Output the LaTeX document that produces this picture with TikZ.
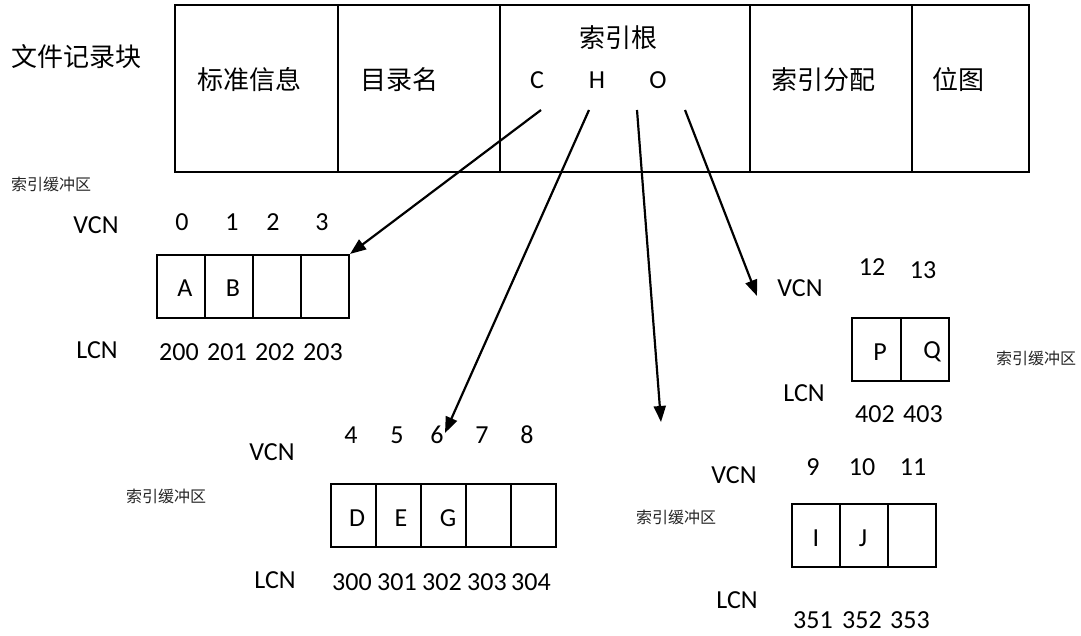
\documentclass[tikz,border=0pt]{standalone}
\usepackage{fontspec}
\setmainfont{Carlito}
\newfontfamily\cjk{Noto Sans CJK SC}
\usetikzlibrary{arrows.meta}
\begin{document}
\begin{tikzpicture}[x=1pt,y=-1pt,
  cell/.style={draw, line width=2.1pt, inner sep=0pt, minimum height=63pt},
  rec/.style={draw, line width=2.1pt, inner sep=0pt, minimum height=167pt},
  big/.style={font=\cjk\fontsize{26}{30}\selectfont, inner sep=0pt},
  lat/.style={font=\fontsize{26}{30}\selectfont, inner sep=0pt},
  small/.style={font=\cjk\fontsize{16}{18}\selectfont, inner sep=0pt, text=black!85},
  arr/.style={-{Triangle[length=16pt,width=12pt]}, line width=2.2pt}]
\useasboundingbox (0,0) rectangle (1081,636);

% file record block
\node[big] (frb) at (76,57) {文件记录块};
\node[rec, minimum width=163pt] (std)   at (256.5,88.5) {};
\node[rec, minimum width=162pt] (dir)   at (419,88.5) {};
\node[rec, minimum width=250pt] (root)  at (625,88.5) {};
\node[rec, minimum width=162pt] (alloc) at (831,88.5) {};
\node[rec, minimum width=117pt] (bmp)   at (970.5,88.5) {};
\node[big] (tstd)   at (249,80) {标准信息};
\node[big] (tdir)   at (399,80) {目录名};
\node[big] (troot)  at (618,38) {索引根};
\node[lat] (kc)     at (537,80) {C};
\node[lat] (kh)     at (597,80) {H};
\node[lat] (ko)     at (658,80) {O};
\node[big] (talloc) at (823,80) {索引分配};
\node[big] (tbmp)   at (958,80) {位图};

% index buffer A B
\node[small] (bufa) at (51,184) {索引缓冲区};
\node[lat] (vcna) at (96,225) {VCN};
\node[lat] (lcna) at (97,350) {LCN};
\foreach \i/\x in {1/181,2/229,3/277,4/325}
  \node[cell, minimum width=48pt] (ba\i) at (\x,286.5) {};
\foreach \t/\x in {0/182,1/232,2/273,3/322}
  \node[lat] (va\t) at (\x,222) {\t};
\foreach \t/\x in {200/179,201/227,202/275,203/323}
  \node[lat] (la\t) at (\x,352) {\t};
\node[lat] (ca) at (185,288) {A};
\node[lat] (cb) at (233,288) {B};

% index buffer D E G
\node[small] (bufd) at (166,496) {索引缓冲区};
\node[lat] (vcnd) at (272,452) {VCN};
\node[lat] (lcnd) at (275,580) {LCN};
\foreach \i/\x in {1/353.5,2/398.5,3/443.5,4/488.5,5/533.5}
  \node[cell, minimum width=45pt] (bd\i) at (\x,515.5) {};
\foreach \t/\x in {4/351,5/397,6/437,7/482,8/527}
  \node[lat] (vd\t) at (\x,435) {\t};
\foreach \t/\x in {300/352,301/397,302/442,303/487,304/531}
  \node[lat] (ld\t) at (\x,582) {\t};
\node[lat] (cd) at (357,518) {D};
\node[lat] (ce) at (401,518) {E};
\node[lat] (cg) at (448,518) {G};

% index buffer P Q
\node[small] (bufp) at (1036,358) {索引缓冲区};
\node[lat] (vcnp) at (800,288) {VCN};
\node[lat] (lcnp) at (804,393) {LCN};
\node[cell, minimum width=48.5pt] (bp1) at (876.5,349.5) {};
\node[cell, minimum width=48.5pt] (bp2) at (925,349.5) {};
\node[lat] (vp12) at (872,267) {12};
\node[lat] (vp13) at (923,270) {13};
\node[lat] (lp402) at (875,414) {402};
\node[lat] (lp403) at (923,414) {403};
\node[lat] (cp) at (880,352) {P};
\node[lat] (cq) at (932,352) {Q};

% index buffer I J
\node[small] (bufi) at (676,517) {索引缓冲区};
\node[lat] (vcni) at (734,475) {VCN};
\node[lat] (lcni) at (737,600) {LCN};
\foreach \i/\x in {1/816,2/864,3/912}
  \node[cell, minimum width=48pt] (bi\i) at (\x,535.5) {};
\foreach \t/\x in {9/813,10/862,11/913}
  \node[lat] (vi\t) at (\x,467) {\t};
\foreach \t/\x in {351/813,352/862,353/910}
  \node[lat] (li\t) at (\x,620) {\t};
\node[lat] (ci) at (816,538) {I};
\node[lat] (cj) at (863,538) {J};

% pointers out of the index root
\coordinate (sc) at (541,110);
\coordinate (sh) at (589,110);
\coordinate (sm) at (637,110);
\coordinate (so) at (685,110);
\coordinate (eh) at (445,433);
\coordinate (em) at (661,422);
\coordinate (eo) at (757,296);
\draw[arr] (sc) -- (ba4.north east);
\draw[arr] (sh) -- (eh);
\draw[arr] (sm) -- (em);
\draw[arr] (so) -- (eo);
\end{tikzpicture}
\end{document}
